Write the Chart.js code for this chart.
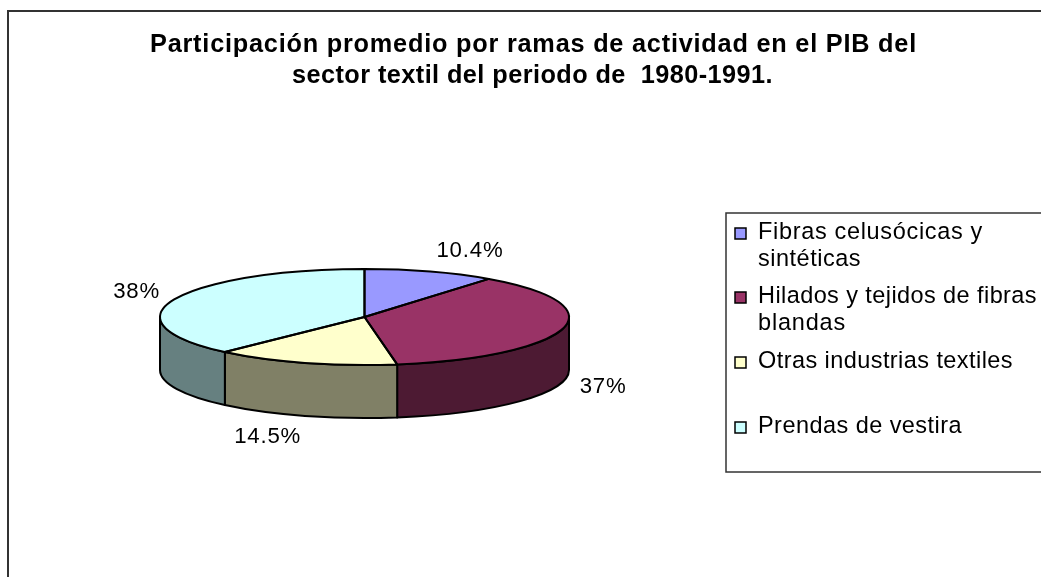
<!DOCTYPE html>
<html>
<head>
<meta charset="utf-8">
<script src="https://cdn.jsdelivr.net/npm/chart.js@4.4.1/dist/chart.umd.min.js"></script>
<style>
  html, body { margin: 0; padding: 0; background: #fff; }
  canvas { display: block; }
</style>
</head>
<body>
<canvas id="pie" width="1041" height="577"></canvas>
<script>
/* ==========================
   DATA
========================== */
const categories = [
    "Fibras celusócicas y sintéticas",
    "Hilados y tejidos de fibras blandas",
    "Otras industrias textiles",
    "Prendas de vestira"
];
const values = [10.4, 37, 14.5, 38];
const titleLines = [
    "Participación promedio por ramas de actividad en el PIB del",
    "sector textil del periodo de  1980-1991."
];
// legend lines, wrapped the way the original shows them
const legendLines = [
    ["Fibras celusócicas y", "sintéticas"],
    ["Hilados y tejidos de fibras", "blandas"],
    ["Otras industrias textiles"],
    ["Prendas de vestira"]
];

const topColors = ["#9999FF", "#993366", "#FFFFCC", "#CCFFFF"];
const sideColors = ["#4D4D80", "#4D1A33", "#808066", "#668080"];

const FONT = "'Liberation Sans', Arial, sans-serif";
const TILT = 48 / 204.5;   // ellipse squash
const DEPTH = 53;          // pie thickness in px

/* ==========================
   HELPERS
========================== */
// font size so the plain text takes ~94% of the width it has in the original
function fitSize(ctx, weight, text, width) {
    ctx.letterSpacing = "0px";
    ctx.font = weight + " 20px " + FONT;
    const w20 = ctx.measureText(text).width;
    return 20 * (0.94 * width) / w20;
}

// letter spacing that fills the rest of the width
function fitSpacing(ctx, text, width) {
    ctx.letterSpacing = "0px";
    const w0 = ctx.measureText(text).width;
    return (width - w0) / text.length;
}

function pieGeometry(chart) {
    const arcs = chart.getDatasetMeta(0).data;
    const a = arcs[0];
    return { arcs, cx: a.x, cy: a.y, rx: a.outerRadius, ry: a.outerRadius * TILT };
}

/* ==========================
   3D PIE PLUGIN
========================== */
const pie3d = {
    id: "pie3d",
    beforeDraw(chart) {
        const ctx = chart.ctx;
        ctx.save();
        ctx.fillStyle = "#fff";
        ctx.fillRect(0, 0, chart.width, chart.height);
        // outer frame (only left and top visible)
        ctx.strokeStyle = "#333";
        ctx.lineWidth = 2;
        ctx.beginPath();
        ctx.moveTo(8, chart.height + 2);
        ctx.lineTo(8, 11);
        ctx.lineTo(chart.width + 2, 11);
        ctx.stroke();
        ctx.restore();
    },
    beforeDatasetsDraw(chart) {
        const ctx = chart.ctx;
        const { arcs, cx, cy, rx, ry } = pieGeometry(chart);

        // front side walls
        ctx.save();
        ctx.lineWidth = 2;
        ctx.strokeStyle = "#000";
        ctx.lineJoin = "round";
        arcs.forEach((arc, i) => {
            const a = Math.max(arc.startAngle, 0);
            const b = Math.min(arc.endAngle, Math.PI);
            if (b <= a) return;
            ctx.beginPath();
            ctx.ellipse(cx, cy, rx, ry, 0, a, b);
            ctx.lineTo(cx + rx * Math.cos(b), cy + ry * Math.sin(b) + DEPTH);
            ctx.ellipse(cx, cy + DEPTH, rx, ry, 0, b, a, true);
            ctx.closePath();
            ctx.fillStyle = sideColors[i];
            ctx.fill();
            ctx.stroke();
        });
        ctx.restore();

        // squash the top face the library draws
        ctx.save();
        ctx.translate(cx, cy);
        ctx.scale(1, TILT);
        ctx.translate(-cx, -cy);
    },
    afterDatasetsDraw(chart) {
        const ctx = chart.ctx;
        ctx.restore();

        const { arcs, cx, cy, rx, ry } = pieGeometry(chart);

        // outlines of the top face
        ctx.save();
        ctx.lineWidth = 2;
        ctx.strokeStyle = "#000";
        ctx.lineJoin = "round";
        arcs.forEach(arc => {
            ctx.beginPath();
            ctx.moveTo(cx, cy);
            ctx.ellipse(cx, cy, rx, ry, 0, arc.startAngle, arc.endAngle);
            ctx.closePath();
            ctx.stroke();
        });
        ctx.restore();

        // value labels, outside the rim
        ctx.save();
        const size = fitSize(ctx, "", "10.4%", 67);
        ctx.font = size + "px " + FONT;
        ctx.letterSpacing = fitSpacing(ctx, "10.4%", 67) + "px";
        ctx.fillStyle = "#000";
        ctx.textAlign = "center";
        ctx.textBaseline = "middle";
        arcs.forEach((arc, i) => {
            const txt = values[i] + "%";
            const w = ctx.measureText(txt).width;
            const mid = (arc.startAngle + arc.endAngle) / 2;
            const c = Math.cos(mid), s = Math.sin(mid);
            const x = cx + c * rx * 1.08 + Math.sign(c) * w / 2;
            const y = cy + s * ry * 1.45 + (s > 0 ? DEPTH : 0);
            ctx.fillText(txt, x + 1, y);
        });
        ctx.restore();
    },
    afterDraw(chart) {
        const ctx = chart.ctx;

        // title
        ctx.save();
        const tSize = fitSize(ctx, "bold", titleLines[0], 767);
        ctx.font = "bold " + tSize + "px " + FONT;
        ctx.fillStyle = "#000";
        ctx.textAlign = "left";
        ctx.textBaseline = "alphabetic";
        const titleSpans = [[150, 917, 52], [292, 773, 83]];
        titleLines.forEach((line, i) => {
            const [x0, x1, base] = titleSpans[i];
            ctx.letterSpacing = fitSpacing(ctx, line, x1 - x0) + "px";
            ctx.fillText(line, x0, base);
        });
        ctx.restore();

        // legend
        ctx.save();
        ctx.strokeStyle = "#333";
        ctx.lineWidth = 1.5;
        ctx.strokeRect(726, 213, 400, 259);

        const lSize = fitSize(ctx, "", legendLines[0][0], 225);
        ctx.font = lSize + "px " + FONT;
        ctx.textAlign = "left";
        ctx.textBaseline = "middle";
        const rowY = [233, 297, 362, 427];
        const lineWidths = [[225, 103], [279, 88], [255], [204]];
        legendLines.forEach((lines, i) => {
            const y = rowY[i];
            ctx.fillStyle = topColors[i];
            ctx.fillRect(735, y - 5, 11, 11);
            ctx.strokeStyle = "#000";
            ctx.lineWidth = 1.5;
            ctx.strokeRect(735, y - 5, 11, 11);
            ctx.fillStyle = "#000";
            lines.forEach((t, j) => {
                ctx.letterSpacing = fitSpacing(ctx, t, lineWidths[i][j]) + "px";
                ctx.fillText(t, 758, y + j * 27);
            });
        });
        ctx.restore();
    }
};

/* ==========================
   CHART
========================== */
const pieChart = new Chart(document.getElementById("pie"), {
    type: "pie",
    data: {
        labels: categories,
        datasets: [{
            data: values,
            backgroundColor: topColors,
            borderWidth: 0
        }]
    },
    options: {
        responsive: false,
        animation: false,
        events: [],
        layout: {
            padding: { left: 160, right: 472, top: 112.5, bottom: 55.5 }
        },
        plugins: {
            legend: { display: false },
            title: { display: false },
            tooltip: { enabled: false }
        }
    },
    plugins: [pie3d]
});
</script>
</body>
</html>
